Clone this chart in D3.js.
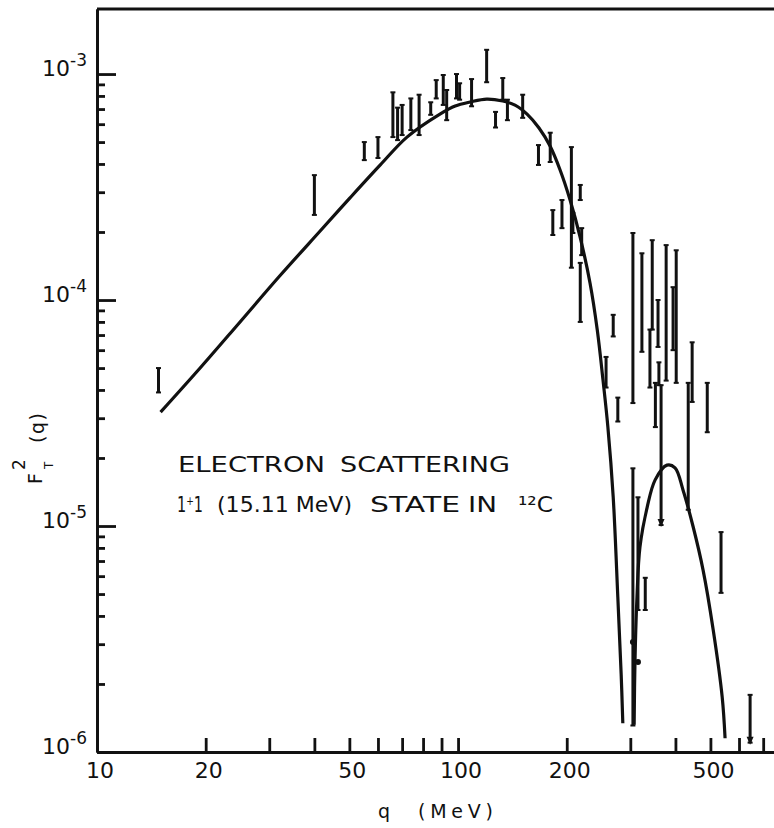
<!DOCTYPE html>
<html>
<head>
<meta charset="utf-8">
<script src="https://cdn.jsdelivr.net/npm/d3@7"></script>
<style>
  body { margin: 0; background: #fff; }
  text { font-family: "DejaVu Sans", sans-serif; fill: #111; }
  .axis path, .axis line { stroke: #111; stroke-width: 2.8; }
</style>
</head>
<body>
<script>
// axis ticks and labels
var qTicks = [20, 30, 40, 50, 60, 70, 80, 90, 100, 200, 300, 400, 500, 600, 700];
var qLabels = [10, 20, 50, 100, 200, 500];
var fMajor = [1e-6, 1e-5, 1e-4, 1e-3];
var fExp = ["-6", "-5", "-4", "-3"];
var fMinorMult = [2, 3, 4, 5, 6, 7, 8, 9];

// measured points: q (MeV), lower and upper end of the error bar
var dataQ  = [14.8, 40, 55, 60, 66, 68, 70, 74, 78, 84, 87, 91, 93, 99, 101, 109, 120, 127, 133, 137, 151,
              167, 180, 206, 218, 194, 183, 208, 220, 218, 269, 257, 277, 305, 323, 345, 340, 358, 360, 352,
              365, 377, 394, 402, 445, 434, 490, 535, 644, 305, 315, 330];
var dataLo = [3.9e-5, 2.38e-4, 4.16e-4, 4.25e-4, 5.26e-4, 5.1e-4, 5.37e-4, 5.65e-4, 5.37e-4, 6.6e-4, 7.8e-4,
              7.3e-4, 6.25e-4, 7.8e-4, 7.7e-4, 7.2e-4, 9.2e-4, 5.8e-4, 7.7e-4, 6.25e-4, 6.4e-4,
              3.96e-4, 4.08e-4, 1.39e-4, 2.77e-4, 2.08e-4, 1.94e-4, 1.98e-4, 1.58e-4, 8.0e-5, 6.9e-5, 4.1e-5,
              2.9e-5, 3.5e-5, 5.9e-5, 7.4e-5, 4.1e-5, 6.2e-5, 4.2e-5, 2.74e-5,
              1.01e-5, 4.4e-5, 6.0e-5, 4.3e-5, 3.54e-5, 1.18e-5, 2.6e-5, 5.06e-6, 1.1e-6, 1.31e-6, 4.25e-6, 4.25e-6];
var dataHi = [5.0e-5, 3.57e-4, 5.0e-4, 5.26e-4, 8.3e-4, 7.1e-4, 7.3e-4, 7.8e-4, 8.1e-4, 7.5e-4, 9.4e-4,
              9.9e-4, 8.5e-4, 1.0e-3, 9.1e-4, 9.5e-4, 1.28e-3, 6.8e-4, 9.6e-4, 7.7e-4, 8.1e-4,
              4.85e-4, 5.5e-4, 4.75e-4, 3.23e-4, 2.77e-4, 2.5e-4, 2.43e-4, 2.08e-4, 1.46e-4, 8.6e-5, 5.6e-5,
              3.7e-5, 1.98e-4, 1.61e-4, 1.84e-4, 7.4e-5, 1.0e-4, 5.3e-5, 4.3e-5,
              4.2e-5, 1.75e-4, 1.14e-4, 1.66e-4, 6.5e-5, 4.3e-5, 4.3e-5, 9.4e-6, 1.79e-6, 1.8e-5, 1.34e-5, 5.9e-6];
// upper limits drawn with an arrow at the low end
var limitQ = [365, 644];
var limitF = [1.01e-5, 1.1e-6];
// single points without bars
var dotQ = [305, 315];
var dotF = [3.07e-6, 2.5e-6];

// theory curve, two lobes either side of the diffraction minimum
var lobe1Q = [15.0, 19.3, 24.9, 32.1, 41.5, 50.2, 60.9, 72.2, 89.1, 98.2, 108, 120, 133, 143.8, 155.3, 167.6,
              179.8, 191.7, 204.3, 217.8, 232, 243, 252, 260, 269, 277, 283, 286];
var lobe1F = [3.19e-5, 5.0e-5, 8.0e-5, 1.28e-4, 2.02e-4, 2.83e-4, 3.96e-4, 5.26e-4, 6.65e-4, 7.22e-4,
              7.52e-4, 7.75e-4, 7.6e-4, 7.29e-4, 6.65e-4, 5.77e-4, 4.8e-4, 3.76e-4, 2.77e-4, 1.9e-4,
              1.19e-4, 7.37e-5, 4.43e-5, 2.74e-5, 1.34e-5, 4.85e-6, 2.2e-6, 1.34e-6];
var lobe2Q = [307.4, 309, 313, 319, 334, 351.5, 379, 399, 420, 448, 477, 509, 539, 549];
var lobe2F = [1.32e-6, 2.48e-6, 4.85e-6, 8.07e-6, 1.21e-5, 1.6e-5, 1.86e-5, 1.81e-5, 1.44e-5, 9.9e-6,
              6.4e-6, 3.47e-6, 1.75e-6, 1.15e-6];

var width = 774, height = 828;

var x = d3.scaleLog().domain([10, 750]).range([97, 774]);
var y = d3.scaleLog().domain([1e-6, 1.94e-3]).range([752, 9]);

var svg = d3.select("body").append("svg")
    .attr("width", width)
    .attr("height", height);

// x axis, ticks pointing up into the plot
svg.append("g")
    .attr("class", "axis")
    .attr("transform", "translate(0," + y(1e-6) + ")")
    .call(d3.axisBottom(x).tickValues(qTicks).tickSize(-14).tickSizeOuter(0).tickFormat(function() { return ""; }));

svg.selectAll(".qlab")
    .data(qLabels)
  .enter().append("text")
    .attr("class", "qlab")
    .attr("x", function(d) { return x(d) + 3; })
    .attr("y", 778)
    .attr("text-anchor", "middle")
    .style("font-size", "22px")
    .text(function(d) { return d; });

// y axis: minor and major ticks pointing right
var fMinor = [];
fMajor.forEach(function(m) {
  fMinorMult.forEach(function(k) {
    if (m * k < 1.94e-3) fMinor.push(m * k);
  });
});

svg.append("g")
    .attr("class", "axis")
    .attr("transform", "translate(" + x(10) + ",0)")
    .call(d3.axisLeft(y).tickValues(fMinor).tickSize(-8).tickSizeOuter(0).tickFormat(function() { return ""; }));

svg.append("g")
    .attr("class", "axis")
    .attr("transform", "translate(" + x(10) + ",0)")
    .call(d3.axisLeft(y).tickValues(fMajor).tickSize(-19).tickSizeOuter(0).tickFormat(function() { return ""; }));

var flab = svg.selectAll(".flab")
    .data(fMajor)
  .enter().append("g")
    .attr("class", "flab")
    .attr("transform", function(d) { return "translate(0," + (y(d) + 2) + ")"; });
flab.append("text")
    .attr("x", 70)
    .attr("text-anchor", "end")
    .style("font-size", "22px")
    .text("10");
flab.append("text")
    .attr("x", 70)
    .attr("y", -10)
    .style("font-size", "17px")
    .text(function(d, i) { return fExp[i]; });

// top frame line
svg.append("line")
    .attr("x1", x(10)).attr("x2", x(750))
    .attr("y1", y(1.94e-3)).attr("y2", y(1.94e-3))
    .attr("stroke", "#111")
    .attr("stroke-width", 2.8);

// theory curve
var line = d3.line()
    .x(function(d) { return x(d.q); })
    .y(function(d) { return y(d.f); })
    .curve(d3.curveCatmullRom.alpha(0.5));

[[lobe1Q, lobe1F], [lobe2Q, lobe2F]].forEach(function(l) {
  var pts = l[0].map(function(q, i) { return {q: q, f: l[1][i]}; });
  svg.append("path")
      .datum(pts)
      .attr("d", line)
      .attr("fill", "none")
      .attr("stroke", "#111")
      .attr("stroke-width", 3.2);
});

// error bars
var bars = dataQ.map(function(q, i) { return {q: q, lo: dataLo[i], hi: dataHi[i]}; });
var eb = svg.selectAll(".bar")
    .data(bars)
  .enter().append("g")
    .attr("class", "bar")
    .attr("stroke", "#111");
eb.append("line")
    .attr("x1", function(d) { return x(d.q); })
    .attr("x2", function(d) { return x(d.q); })
    .attr("y1", function(d) { return y(d.lo); })
    .attr("y2", function(d) { return y(d.hi); })
    .attr("stroke-width", 3);
eb.append("line")
    .attr("x1", function(d) { return x(d.q) - 2.5; })
    .attr("x2", function(d) { return x(d.q) + 2.5; })
    .attr("y1", function(d) { return y(d.lo); })
    .attr("y2", function(d) { return y(d.lo); })
    .attr("stroke-width", 2);
eb.append("line")
    .attr("x1", function(d) { return x(d.q) - 2.5; })
    .attr("x2", function(d) { return x(d.q) + 2.5; })
    .attr("y1", function(d) { return y(d.hi); })
    .attr("y2", function(d) { return y(d.hi); })
    .attr("stroke-width", 2);

// arrows for upper limits
svg.selectAll(".lim")
    .data(limitQ)
  .enter().append("path")
    .attr("class", "lim")
    .attr("d", function(d, i) {
      var cx = x(d), cy = y(limitF[i]);
      return "M" + (cx - 3.5) + "," + (cy - 6) + "L" + (cx + 3.5) + "," + (cy - 6) + "L" + cx + "," + (cy + 2) + "Z";
    })
    .attr("fill", "#111");

svg.selectAll(".dot")
    .data(dotQ)
  .enter().append("circle")
    .attr("class", "dot")
    .attr("cx", function(d) { return x(d); })
    .attr("cy", function(d, i) { return y(dotF[i]); })
    .attr("r", 3)
    .attr("fill", "#111");

// annotation, each word stretched to the width of the hand lettering
var words = [
  {t: "ELECTRON", x: 178, y: 472, w: 147},
  {t: "SCATTERING", x: 340, y: 472, w: 170},
  {t: "1\u207A1", x: 177, y: 512, w: 26},
  {t: "(15.11 MeV)", x: 217, y: 512, w: 135},
  {t: "STATE", x: 370, y: 512, w: 90},
  {t: "IN", x: 468, y: 512, w: 29},
  {t: "\u00B9\u00B2C", x: 518, y: 512, w: 35}
];
svg.selectAll(".note")
    .data(words)
  .enter().append("text")
    .attr("class", "note")
    .attr("x", function(d) { return d.x; })
    .attr("y", function(d) { return d.y; })
    .attr("textLength", function(d) { return d.w; })
    .attr("lengthAdjust", "spacingAndGlyphs")
    .style("font-size", "21px")
    .text(function(d) { return d.t; });

// axis titles
svg.append("text")
    .attr("x", 378).attr("y", 818)
    .style("font-size", "19px")
    .text("q");
svg.append("text")
    .attr("x", 418).attr("y", 818)
    .attr("textLength", 75)
    .attr("lengthAdjust", "spacing")
    .style("font-size", "19px")
    .text("(MeV)");

var yt = svg.append("g").attr("transform", "translate(42,484) rotate(-90)");
yt.append("text").attr("x", 0).attr("y", 0).style("font-size", "19px").text("F");
yt.append("text").attr("x", 14).attr("y", -17).style("font-size", "17px").text("2");
yt.append("text").attr("x", 15).attr("y", 11).style("font-size", "12px").text("T");
yt.append("text").attr("x", 41).attr("y", 2).attr("textLength", 30).attr("lengthAdjust", "spacing")
    .style("font-size", "19px").text("(q)");
</script>
</body>
</html>
